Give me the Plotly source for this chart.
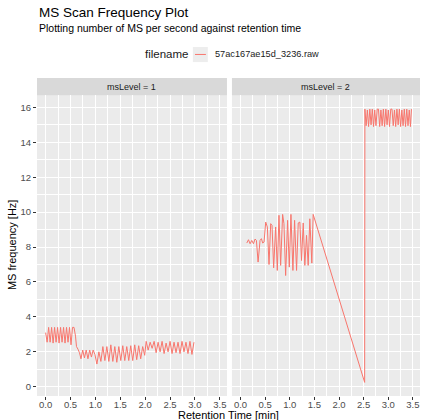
import plotly.graph_objects as go

# MS scan frequency (Hz) per retention time (min), one file, split by msLevel
filename = "57ac167ae15d_3236.raw"

rt_ms1 = [0.00, 0.03, 0.06, 0.09, 0.12, 0.15, 0.18, 0.21, 0.24, 0.27,
          0.30, 0.33, 0.36, 0.39, 0.42, 0.45, 0.48, 0.51, 0.54, 0.57,
          0.60, 0.62, 0.65, 0.68, 0.71, 0.745, 0.78, 0.815, 0.85, 0.885,
          0.92, 0.955, 0.99, 1.03, 1.07, 1.11, 1.15, 1.19, 1.23, 1.27,
          1.31, 1.35, 1.39, 1.43, 1.47, 1.51, 1.55, 1.59, 1.63, 1.67,
          1.71, 1.75, 1.79, 1.83, 1.87, 1.91, 1.95, 1.99, 2.02, 2.06,
          2.10, 2.14, 2.18, 2.22, 2.26, 2.30, 2.34, 2.38, 2.42, 2.46,
          2.50, 2.54, 2.58, 2.62, 2.66, 2.70, 2.74, 2.78, 2.82, 2.86,
          2.90, 2.94, 2.98]
freq_ms1 = [3.1, 2.55, 3.4, 2.55, 3.4, 2.5, 3.4, 2.55, 3.4, 2.5,
            3.4, 2.55, 3.4, 2.5, 3.4, 2.55, 3.4, 2.4, 3.4, 3.4,
            2.9, 2.3, 2.15, 1.95, 1.6, 2.1, 1.65, 2.1, 1.6, 2.1,
            1.7, 2.1, 1.85, 1.3, 2.0, 1.45, 2.3, 1.5, 2.3, 1.45,
            2.4, 1.45, 2.3, 1.4, 2.3, 1.5, 2.35, 1.5, 2.3, 1.5,
            2.35, 1.5, 2.4, 1.55, 2.35, 1.6, 2.3, 1.8, 2.6, 2.1,
            2.55, 2.2, 2.6, 1.95, 2.55, 2.0, 2.6, 1.9, 2.5, 2.0,
            2.6, 1.9, 2.55, 1.95, 2.55, 1.9, 2.6, 2.0, 2.55, 1.9,
            2.6, 1.85, 2.55]

rt_ms2 = [0.128, 0.162, 0.195, 0.229, 0.263, 0.296, 0.323, 0.357, 0.397, 0.424,
          0.451, 0.478, 0.512, 0.545, 0.579, 0.613, 0.640, 0.673, 0.714, 0.747,
          0.781, 0.815, 0.855, 0.882, 0.916, 0.956, 0.990, 1.024, 1.064, 1.098,
          1.138, 1.172, 1.205, 1.239, 1.273, 1.306, 1.340, 1.374, 1.407, 1.448,
          1.475, 2.52,
          2.525, 2.55, 2.575, 2.60, 2.625, 2.65, 2.675, 2.70, 2.725, 2.75,
          2.775, 2.80, 2.825, 2.85, 2.875, 2.90, 2.925, 2.95, 2.975, 3.00,
          3.025, 3.05, 3.075, 3.10, 3.125, 3.15, 3.175, 3.20, 3.225, 3.25,
          3.275, 3.30, 3.325, 3.35, 3.375, 3.40, 3.425, 3.45, 3.47]
freq_ms2 = [8.23, 8.42, 8.19, 8.38, 8.19, 8.46, 8.38, 7.14, 8.38, 8.48,
            8.23, 8.29, 9.43, 9.15, 7.0, 9.34, 9.24, 6.81, 9.15, 6.66,
            9.82, 6.95, 9.87, 9.34, 6.37, 9.53, 6.85, 9.87, 6.66, 9.53,
            6.66, 9.38, 9.43, 7.23, 9.38, 6.95, 8.67, 6.95, 9.62, 7.08,
            9.87, 0.25,
            15.9, 14.95, 15.85, 14.9, 15.9, 15.0, 15.9, 14.9, 15.85, 14.95,
            15.9, 15.9, 14.9, 15.85, 14.95, 15.9, 14.9, 15.9, 15.0, 15.85,
            14.9, 15.9, 15.9, 14.95, 15.85, 14.9, 15.9, 15.0, 15.9, 14.9,
            15.85, 14.95, 15.9, 14.9, 15.9, 14.95, 15.85, 14.9, 15.9]

panel_labels = ["msLevel = 1", "msLevel = 2"]
x_ticks = [0.0, 0.5, 1.0, 1.5, 2.0, 2.5, 3.0, 3.5]
y_ticks = [0, 2, 4, 6, 8, 10, 12, 14, 16]

LINE = "#F8766D"
FONT = "Liberation Sans, Arial, sans-serif"

fig = go.Figure()
fig.add_trace(go.Scatter(x=rt_ms1, y=freq_ms1, mode="lines", name=filename,
                         line=dict(color=LINE, width=1), xaxis="x", yaxis="y",
                         showlegend=False))
fig.add_trace(go.Scatter(x=rt_ms2, y=freq_ms2, mode="lines", name=filename,
                         line=dict(color=LINE, width=1), xaxis="x2", yaxis="y",
                         showlegend=False))

xr = [-0.1735, 3.6435]
yr = [-0.53, 16.68]
y_top = 0.945

common_x = dict(range=xr, tickvals=x_ticks, ticktext=[f"{v:.1f}" for v in x_ticks],
                ticks="outside", ticklen=3, tickcolor="#333333", tickwidth=1,
                ticklabelstandoff=-3,
                tickfont=dict(size=9.5, color="#4D4D4D", family=FONT),
                showgrid=True, gridcolor="white", gridwidth=1.1, zeroline=False,
                showline=False, anchor="y",
                minor=dict(dtick=0.25, tick0=0, showgrid=True, gridcolor="white",
                           gridwidth=0.5, ticks=""))

fig.update_layout(
    width=422, height=420,
    margin=dict(l=37, r=2, t=78, b=24),
    paper_bgcolor="white", plot_bgcolor="#EBEBEB",
    font=dict(family=FONT, color="#1A1A1A"),
    xaxis=dict(domain=[0, 0.496], **common_x),
    xaxis2=dict(domain=[0.509, 1], **common_x),
    yaxis=dict(domain=[0, y_top], range=yr, tickvals=y_ticks,
               ticks="outside", ticklen=3, tickcolor="#333333", tickwidth=1,
               tickfont=dict(size=9.5, color="#4D4D4D", family=FONT),
               showgrid=True, gridcolor="white", gridwidth=1.1, zeroline=False,
               showline=False,
               minor=dict(dtick=1, tick0=0, showgrid=True, gridcolor="white",
                          gridwidth=0.5, ticks="")),
    showlegend=False,
)

# facet strips
shapes = []
annotations = []
for ax, label in zip(["x", "x2"], panel_labels):
    shapes.append(dict(type="rect", xref=f"{ax} domain", yref="paper",
                       x0=0, x1=1, y0=y_top, y1=1.0,
                       fillcolor="#D9D9D9", line=dict(width=0), layer="below"))
    annotations.append(dict(text=label, xref=f"{ax} domain", yref="paper",
                            x=0.5, y=(y_top + 1) / 2, showarrow=False,
                            xanchor="center", yanchor="middle",
                            font=dict(size=9, color="#1A1A1A", family=FONT)))

# legend: title, grey key with a short line sample, and the file name
shapes += [
    dict(type="rect", xref="paper", yref="paper", x0=0.407, x1=0.446,
         y0=1.050, y1=1.0975, fillcolor="#EDEDED", line=dict(width=0)),
    dict(type="line", xref="paper", yref="paper", x0=0.4125, x1=0.441,
         y0=1.074, y1=1.074, line=dict(color=LINE, width=1)),
]
annotations += [
    dict(text="filename", xref="paper", yref="paper", x=0.337, y=1.0755,
         xanchor="center", yanchor="middle", showarrow=False,
         font=dict(size=11.5, color="#1A1A1A", family=FONT)),
    dict(text=filename, xref="paper", yref="paper", x=0.4595, y=1.074,
         xanchor="left", yanchor="middle", showarrow=False,
         font=dict(size=9.2, color="#1A1A1A", family=FONT)),
]

annotations += [
    dict(text="MS Scan Frequency Plot", xref="paper", yref="paper", x=0, y=1.206,
         xanchor="left", yanchor="middle", showarrow=False,
         font=dict(size=13.5, color="black", family=FONT)),
    dict(text="Plotting number of MS per second against retention time",
         xref="paper", yref="paper", x=0, y=1.156, xanchor="left",
         yanchor="middle", showarrow=False,
         font=dict(size=10.5, color="black", family=FONT)),
    dict(text="MS frequency [Hz]", xref="paper", yref="paper", x=-0.065, y=0.475,
         xanchor="center", yanchor="middle", textangle=-90, showarrow=False,
         font=dict(size=11, color="black", family=FONT)),
    dict(text="Retention Time [min]", xref="paper", yref="paper", x=0.5, y=-0.06,
         xanchor="center", yanchor="middle", showarrow=False,
         font=dict(size=11, color="black", family=FONT)),
]

fig.update_layout(shapes=shapes, annotations=annotations)
fig.write_html("out.html")
